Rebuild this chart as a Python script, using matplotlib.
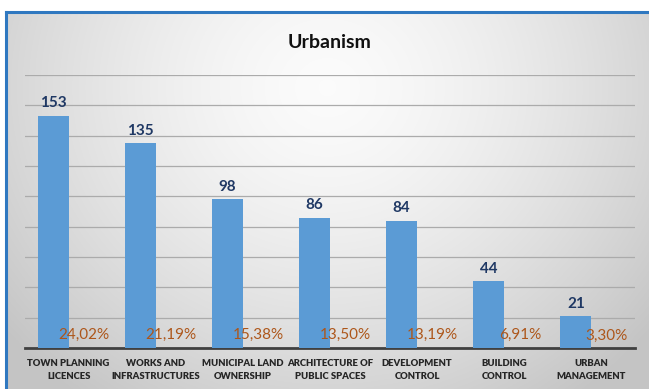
import matplotlib.pyplot as plt
import numpy as np

categories = ['TOWN PLANNING\nLICENCES', 'WORKS AND\nINFRASTRUCTURES', 'MUNICIPAL LAND\nOWNERSHIP',
              'ARCHITECTURE OF\nPUBLIC SPACES', 'DEVELOPMENT\nCONTROL', 'BUILDING\nCONTROL',
              'URBAN\nMANAGEMENT']
counts = [153, 135, 98, 86, 84, 44, 21]
shares = [24.02, 21.19, 15.38, 13.50, 13.19, 6.91, 3.30]

W, H = 649, 389
fig = plt.figure(figsize=(W / 100, H / 100), dpi=100)
fig.patch.set_facecolor('white')

# framed panel with a soft radial gradient
bg = fig.add_axes([6 / W, 0, 1 - 6 / W, 1 - 12 / H], zorder=0)
yy, xx = np.mgrid[0:1:300j, 0:1:600j]
r = np.sqrt(((xx - 0.5) / 0.7) ** 2 + ((yy - 0.2) / 1.1) ** 2)
shade = np.clip(0.985 - 0.24 * r ** 1.5, 0.77, 0.985)
bg.imshow(np.dstack([shade] * 3), aspect='auto', extent=[0, 1, 1, 0])
bg.set_xlim(0, 1)
bg.set_ylim(1, 0)
bg.set_xticks([])
bg.set_yticks([])
for side in ['right', 'bottom']:
    bg.spines[side].set_visible(False)
for side in ['left', 'top']:
    bg.spines[side].set_color('#2F78C0')
    bg.spines[side].set_linewidth(2.2)

fig.text(330 / W, 1 - 43 / H, 'Urbanism', ha='center', va='center',
         fontsize=14, fontweight='bold', family='Lato', color='#111111')

ax = fig.add_axes([25 / W, 1 - 348 / H, 610 / W, 273 / H], zorder=1)
ax.patch.set_alpha(0)

x = np.arange(len(categories))
bw = 0.356
ax.bar(x - bw / 2, counts, width=bw, color='#5B9BD5', zorder=3)
ax.bar(x + bw / 2, [s / 100 for s in shares], width=bw, color='#5B9BD5', zorder=3)

for xi, c in zip(x, counts):
    ax.annotate(str(c), (xi - bw / 2, c), xytext=(0, 4), textcoords='offset points',
                ha='center', va='bottom', fontsize=11, fontweight='bold',
                family='Lato', color='#1F3864')
for xi, s in zip(x, shares):
    label = f'{s:.2f}%'.replace('.', ',')
    ax.annotate(label, (xi + bw / 2, s / 100), xytext=(0, 4), textcoords='offset points',
                ha='center', va='bottom', fontsize=11,
                family='Lato', color='#AD561A', zorder=4)

ax.set_xlim(-0.5, len(categories) - 0.5)
ax.set_ylim(0, 180)
ax.set_yticks(np.arange(0, 181, 20))
ax.yaxis.grid(True, color='#ABABAB', linewidth=0.9)
ax.set_axisbelow(True)
ax.tick_params(axis='y', length=0, labelleft=False)
ax.tick_params(axis='x', length=0, pad=8)
ax.set_xticks(x)
ax.set_xticklabels(categories)
for lbl in ax.get_xticklabels():
    lbl.set_fontsize(6.8)
    lbl.set_fontweight('heavy')
    lbl.set_family('Lato')
    lbl.set_color('#262626')
    lbl.set_linespacing(1.6)
for side in ['left', 'right', 'top']:
    ax.spines[side].set_visible(False)
ax.spines['bottom'].set_color('#404040')
ax.spines['bottom'].set_linewidth(2)

fig.savefig('out.png', dpi=100)
